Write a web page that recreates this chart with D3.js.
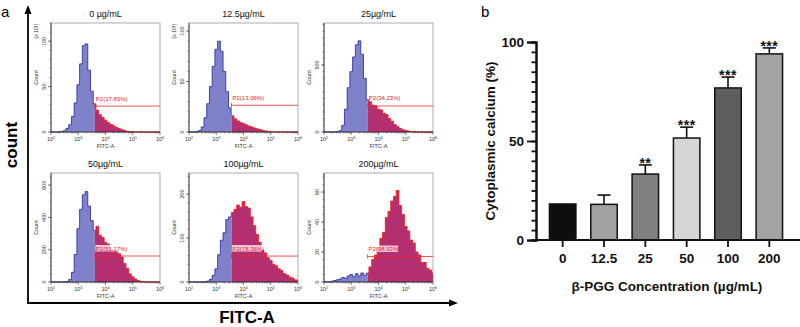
<!DOCTYPE html>
<html><head><meta charset="utf-8">
<script src="https://cdn.jsdelivr.net/npm/d3@7"></script>
<style>body{margin:0;background:#fff} svg{display:block} text{font-family:"Liberation Sans",Arial,Helvetica,sans-serif}</style>
</head><body><svg id="c" width="800" height="327"></svg>
<script>
// ---------- Panel a data (flow cytometry histograms) ----------
const logBins = [2.0,2.1,2.2,2.3,2.4,2.5,2.6,2.7,2.8,2.9,3.0,3.1,3.2,3.3,3.4,3.5,3.6,3.7,3.8,3.9,4.0,4.1,4.2,4.3,4.4,4.5,4.6,4.7,4.8,4.9,5.0,5.1,5.2,5.3,5.4,5.5,5.6,5.7,5.8,5.9,6.0];
const doseTitles = ["0 µg/mL","12.5µg/mL","25µg/mL","50µg/mL","100µg/mL","200µg/mL"];
const counts0 = [0,0,0,0,0.5,1.5,4,8,17,32,52,75,95,97,68,45,31,24,19,16,13,10.5,8.5,6.8,5.2,3.8,2.6,1.6,0.9,0.4,0.2,0,0,0,0,0,0,0,0,0,0];
const counts1 = [0,0,0,0.3,1.5,5,14,28,45,65,82,90,80,60,40,24,16,13,11,9.5,8.5,7.2,6,5,4,3.2,2.4,1.7,1.1,0.6,0.3,0.1,0,0,0,0,0,0,0,0,0];
const counts2 = [0,0,0,0,0,2,10,50,170,330,450,560,650,680,580,400,240,225,200,195,170,165,140,130,100,80,55,40,26,17,11,7,4,2,1,0.5,0,0,0,0,0];
const counts3 = [0,0,0,0,0,0,3,15,60,170,330,450,540,560,470,380,320,345,290,275,245,235,205,195,190,175,155,115,85,50,32,18,9,4,1.5,0.5,0,0,0,0,0];
const counts4 = [0,0,0,0,0,0,0,2,6,15,30,62,95,112,142,148,158,165,175,170,183,172,168,148,128,108,90,72,66,55,49,40,37,30,26,19,16,11,9,5,3];
const counts5 = [0,0,0,0.5,1,1.5,2,3,2.5,4,5,3.5,5.5,4,6,4.5,6,10,15,18,23,29,33,43,47,54,57,61,51,45,37,34,28,26,20,18,13,13,9,8,6];
const gateLog = [3.61,3.56,3.61,3.61,3.56,3.60];
const gateLabels = ["P2(17.83%)","P2(13.06%)","P2(34.23%)","P2(51.17%)","P2(78.36%)","P2(98.93%)"];
const gateLevel = [28.5,26.5,194,161,59,17];
const yMaxes = [120,108,813,675,248,72.7];
const yMajor = [[0,50,100],[0,50,100],[0,500],[0,200,400,600],[0,100,200],[0,20,40,60]];
const yMinorStep = [10,10,50,50,20,5];
const yScaled = [true,true,false,false,false,false];
const xDecades = [2,3,4,5,6];

// ---------- Panel b data (bar chart) ----------
const concentrations = ["0","12.5","25","50","100","200"];
const calcium = [18.2,18,33.3,51.5,76.8,94];
const calciumErr = [0,4.7,4.6,5.5,5.5,3];
const significance = ["","","**","***","***","***"];
const barFills = ["#0e0e0e","#a2a2a2","#808080","#d6d6d6","#5e5e5e","#a3a3a3"];
const yTicksB = [0,50,100];

const svg = d3.select("#c");

// ---------- Panel a ----------
const colX = [51,189,324], rowY = [23,173], PW = 109, PH = 109;
const allCounts = [counts0,counts1,counts2,counts3,counts4,counts5];
const defs = svg.append("defs");

allCounts.forEach((counts,i)=>{
  const x0 = colX[i%3], y0 = rowY[Math.floor(i/3)];
  const xs = d3.scaleLog().domain([1e2,1e6]).range([x0,x0+PW]);
  const ys = d3.scaleLinear().domain([0,yMaxes[i]]).range([y0+PH,y0]);
  const g = svg.append("g");
  const data = logBins.map((l,j)=>({v:Math.pow(10,l),c:counts[j]}));
  const gx = xs(Math.pow(10,gateLog[i]));

  defs.append("clipPath").attr("id","cl"+i).append("rect")
    .attr("x",x0-2).attr("y",y0-2).attr("width",gx-x0+2).attr("height",PH+4);
  defs.append("clipPath").attr("id","cr"+i).append("rect")
    .attr("x",gx).attr("y",y0-2).attr("width",x0+PW-gx+2).attr("height",PH+4);

  // frame
  g.append("rect").attr("x",x0).attr("y",y0).attr("width",PW).attr("height",PH)
    .attr("fill","none").attr("stroke","#8a8a8a").attr("stroke-width",0.7);

  const area = d3.area().x(d=>xs(d.v)).y0(ys(0)).y1(d=>ys(d.c)).curve(d3.curveStep);
  const line = d3.line().x(d=>xs(d.v)).y(d=>ys(d.c)).curve(d3.curveStep);

  g.append("path").datum(data).attr("d",area).attr("fill","#7f82c9").attr("clip-path","url(#cl"+i+")");
  g.append("path").datum(data).attr("d",line).attr("fill","none").attr("stroke","#2024a0").attr("stroke-width",0.8).attr("clip-path","url(#cl"+i+")");
  g.append("path").datum(data).attr("d",area).attr("fill","#b42f6f").attr("clip-path","url(#cr"+i+")");
  g.append("path").datum(data).attr("d",line).attr("fill","none").attr("stroke","#ff1a1a").attr("stroke-width",0.9).attr("clip-path","url(#cr"+i+")");

  // axes
  g.append("line").attr("x1",x0).attr("x2",x0).attr("y1",y0).attr("y2",y0+PH).attr("stroke","#222").attr("stroke-width",0.8);
  g.append("line").attr("x1",x0).attr("x2",x0+PW).attr("y1",y0+PH).attr("y2",y0+PH).attr("stroke","#222").attr("stroke-width",0.8);
  const minorVals = d3.range(0,yMaxes[i]+0.001,yMinorStep[i]);
  g.selectAll(null).data(minorVals).join("line")
    .attr("x1",x0-1.5).attr("x2",x0).attr("y1",d=>ys(d)).attr("y2",d=>ys(d))
    .attr("stroke","#333").attr("stroke-width",0.5);
  g.selectAll(null).data(yMajor[i]).join("line")
    .attr("x1",x0-3).attr("x2",x0).attr("y1",d=>ys(d)).attr("y2",d=>ys(d))
    .attr("stroke","#333").attr("stroke-width",0.6);
  g.selectAll(null).data(yMajor[i]).join("text")
    .attr("transform",d=>`translate(${x0-5},${ys(d)}) rotate(-90)`)
    .attr("text-anchor","middle").attr("font-size",5.5).attr("fill","#333").text(d=>d);
  g.append("text").attr("transform",`translate(${x0-13},${y0+PH/2}) rotate(-90)`)
    .attr("text-anchor","middle").attr("font-size",5.5).attr("fill","#333").text("Count");
  if (yScaled[i]) {
    const t = g.append("text").attr("transform",`translate(${x0-13},${y0+8}) rotate(-90)`)
      .attr("text-anchor","middle").attr("font-size",5).attr("fill","#333");
    t.append("tspan").text("(x 10");
    t.append("tspan").attr("dy",-1.5).attr("font-size",3.5).text("1");
    t.append("tspan").attr("dy",1.5).text(")");
  }
  const minorX = [];
  for (let k=2;k<6;k++) for (let m=2;m<10;m++) minorX.push(m*Math.pow(10,k));
  g.selectAll(null).data(minorX).join("line")
    .attr("x1",d=>xs(d)).attr("x2",d=>xs(d)).attr("y1",y0+PH).attr("y2",y0+PH+1.5)
    .attr("stroke","#333").attr("stroke-width",0.5);
  g.selectAll(null).data(xDecades).join("line")
    .attr("x1",d=>xs(Math.pow(10,d))).attr("x2",d=>xs(Math.pow(10,d))).attr("y1",y0+PH).attr("y2",y0+PH+3)
    .attr("stroke","#333").attr("stroke-width",0.6);
  xDecades.forEach(d=>{
    const t = g.append("text").attr("x",xs(Math.pow(10,d))).attr("y",y0+PH+8.5)
      .attr("text-anchor","middle").attr("font-size",5.5).attr("fill","#333");
    t.append("tspan").text("10");
    t.append("tspan").attr("dy",-2).attr("font-size",3.8).text(d);
  });
  g.append("text").attr("x",x0+PW/2).attr("y",y0+PH+16).attr("text-anchor","middle")
    .attr("font-size",5.5).attr("fill","#333").text("FITC-A");

  g.append("text").attr("x",x0+PW/2).attr("y",y0-6.5).attr("text-anchor","middle")
    .attr("font-size",9).attr("fill","#111").text(doseTitles[i]);

  // gate
  const gy = ys(gateLevel[i]);
  g.append("line").attr("x1",gx).attr("x2",x0+PW).attr("y1",gy).attr("y2",gy)
    .attr("stroke","#ee2a2a").attr("stroke-width",0.8);
  g.append("line").attr("x1",gx).attr("x2",gx).attr("y1",gy-2).attr("y2",gy+2)
    .attr("stroke","#ee2a2a").attr("stroke-width",0.8);
  if (i>=3) {
    g.append("rect").attr("x",gx+0.5).attr("y",gy-11).attr("width",30).attr("height",6.5)
      .attr("fill","#fff").attr("opacity",0.75);
  }
  g.append("text").attr("x",gx+1).attr("y",gy-5.5).attr("font-size",6).attr("fill","#e8202a").text(gateLabels[i]);
});

// frame arrows & labels for panel a
svg.append("line").attr("x1",28).attr("x2",28).attr("y1",303).attr("y2",12).attr("stroke","#000").attr("stroke-width",1.8);
svg.append("path").attr("d","M28,5 L24.5,14 L31.5,14 Z").attr("fill","#000");
svg.append("line").attr("x1",27.1).attr("x2",450).attr("y1",303).attr("y2",303).attr("stroke","#000").attr("stroke-width",1.8);
svg.append("path").attr("d","M458,303 L449,299.5 L449,306.5 Z").attr("fill","#000");
svg.append("text").attr("transform","translate(17,145) rotate(-90)").attr("text-anchor","middle")
  .attr("font-size",17).attr("font-weight","bold").text("count");
svg.append("text").attr("x",247).attr("y",323).attr("text-anchor","middle")
  .attr("font-size",17).attr("font-weight","bold").text("FITC-A");
svg.append("text").attr("x",1).attr("y",17).attr("font-size",15).text("a");
svg.append("text").attr("x",481).attr("y",17).attr("font-size",15).text("b");

// ---------- Panel b ----------
const xB = d3.scaleBand().domain(concentrations).range([542,790]).paddingInner(0.36).paddingOuter(0.18);
const yB = d3.scaleLinear().domain([0,100]).range([240,42]);
const gb = svg.append("g");

gb.selectAll(null).data(concentrations).join("rect")
  .attr("x",d=>xB(d)).attr("width",xB.bandwidth())
  .attr("y",(d,i)=>yB(calcium[i])).attr("height",(d,i)=>yB(0)-yB(calcium[i]))
  .attr("fill",(d,i)=>barFills[i]).attr("stroke","#111").attr("stroke-width",1.5);

concentrations.forEach((c,i)=>{
  if (calciumErr[i]>0) {
    const cx = xB(c)+xB.bandwidth()/2;
    const top = yB(calcium[i]+calciumErr[i]);
    gb.append("line").attr("x1",cx).attr("x2",cx).attr("y1",yB(calcium[i])).attr("y2",top).attr("stroke","#111").attr("stroke-width",1.6);
    gb.append("line").attr("x1",cx-6.5).attr("x2",cx+6.5).attr("y1",top).attr("y2",top).attr("stroke","#111").attr("stroke-width",1.6);
  }
  if (significance[i]) {
    gb.append("text").attr("x",xB(c)+xB.bandwidth()/2).attr("y",yB(calcium[i]+calciumErr[i])+3)
      .attr("text-anchor","middle").attr("font-size",14).attr("font-weight","bold").attr("fill","#111")
      .attr("letter-spacing",0.5).text(significance[i]);
  }
});

const yMinor = gb.append("g").attr("transform","translate(536,0)")
  .call(d3.axisLeft(yB).tickValues(d3.range(0,101,5)).tickSize(4.5).tickFormat(""));
const yMaj = gb.append("g").attr("transform","translate(536,0)")
  .call(d3.axisLeft(yB).tickValues(yTicksB).tickSize(9).tickPadding(3));
[yMinor,yMaj].forEach(a=>{
  a.select(".domain").attr("stroke","#111").attr("stroke-width",2);
  a.selectAll(".tick line").attr("stroke","#111").attr("stroke-width",1.8);
});
yMaj.selectAll(".tick text").attr("font-size",13.5).attr("font-weight","bold").attr("fill","#111")
  .attr("font-family","Liberation Sans,Arial,sans-serif");

gb.append("line").attr("x1",535).attr("x2",800).attr("y1",240).attr("y2",240).attr("stroke","#111").attr("stroke-width",2);
const xAx = gb.append("g").attr("transform","translate(0,240)")
  .call(d3.axisBottom(xB).tickSize(7).tickPadding(6));
xAx.select(".domain").remove();
xAx.selectAll(".tick line").attr("stroke","#111").attr("stroke-width",1.8);
xAx.selectAll(".tick text").attr("font-size",13.5).attr("font-weight","bold").attr("fill","#111")
  .attr("font-family","Liberation Sans,Arial,sans-serif");

gb.append("text").attr("x",667).attr("y",291).attr("text-anchor","middle")
  .attr("font-size",13.5).attr("font-weight","bold").attr("fill","#111").text("β-PGG Concentration (µg/mL)");
gb.append("text").attr("transform","translate(495,141) rotate(-90)").attr("text-anchor","middle")
  .attr("font-size",13.5).attr("font-weight","bold").attr("fill","#111").text("Cytoplasmic calcium (%)");
</script></body></html>
